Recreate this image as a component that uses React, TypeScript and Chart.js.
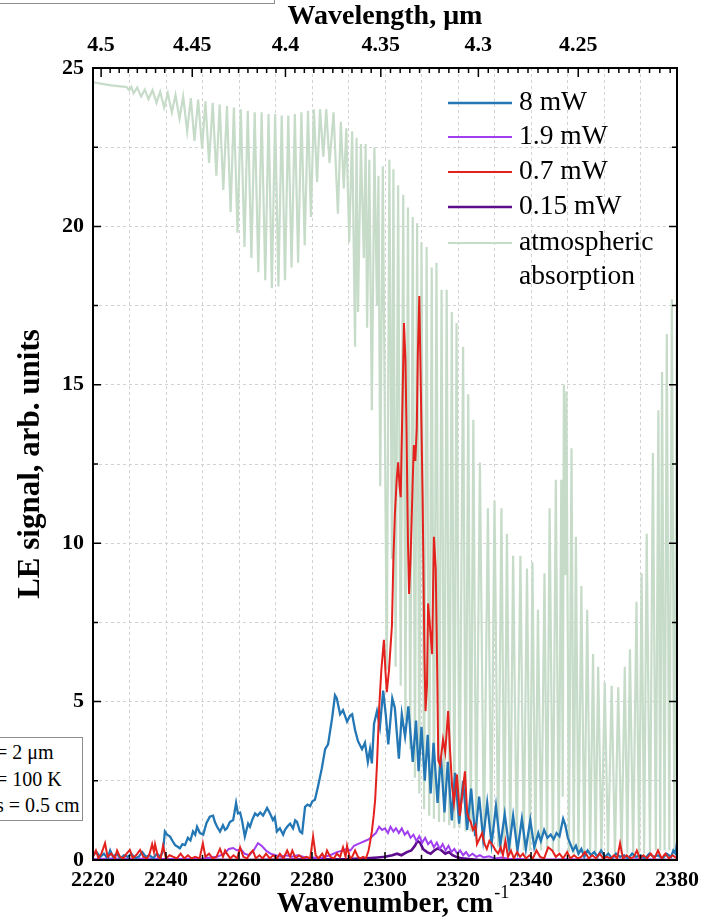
import React, { useEffect, useRef } from 'react';
import { Chart, registerables } from 'chart.js';

Chart.register(...registerables);

const FONT = '"Liberation Serif", "Times New Roman", Times, serif';

// ---- 8 mW ----
const blueWavenumber = [
  2220.0, 2221.0, 2222.0, 2223.0, 2224.0, 2224.7, 2225.5, 2226.5, 2227.5, 2228.5,
  2229.5, 2230.5, 2231.5, 2232.5, 2233.5, 2234.5, 2235.5, 2236.5, 2237.5, 2238.5,
  2239.2, 2239.7, 2240.3, 2241.1, 2241.8, 2242.5, 2243.2, 2243.8, 2244.5, 2245.2,
  2246.0, 2246.7, 2247.4, 2248.0, 2248.5, 2249.3, 2250.2, 2251.1, 2252.0, 2252.9,
  2253.4, 2254.0, 2254.8, 2255.6, 2256.2, 2256.7, 2257.5, 2258.4, 2259.2, 2259.7,
  2260.3, 2260.8, 2261.6, 2262.5, 2263.0, 2263.6, 2264.4, 2265.1, 2265.8, 2266.6,
  2267.7, 2268.5, 2269.3, 2269.8, 2270.4, 2271.2, 2272.1, 2272.6, 2273.2, 2274.0,
  2274.8, 2275.4, 2275.9, 2276.7, 2277.3, 2278.1, 2278.8, 2279.5, 2280.1, 2280.8,
  2281.6, 2282.7, 2283.6, 2284.4, 2285.5, 2286.3, 2286.8, 2287.7, 2288.5, 2289.6,
  2290.4, 2291.0, 2291.8, 2292.6, 2293.7, 2294.5, 2295.3, 2295.9, 2296.4, 2297.0,
  2297.8, 2298.6, 2299.5, 2300.2, 2300.9, 2302.0, 2302.7, 2303.8, 2304.6, 2305.5,
  2306.4, 2307.6, 2308.5, 2309.2, 2310.0, 2310.9, 2311.7, 2312.5, 2313.3, 2314.4,
  2315.3, 2316.3, 2317.2, 2318.3, 2319.2, 2320.3, 2321.4, 2322.5, 2323.6, 2324.7,
  2325.8, 2326.9, 2328.0, 2329.2, 2330.4, 2331.6, 2332.8, 2334.0, 2335.1, 2336.3,
  2337.5, 2338.6, 2339.8, 2340.9, 2342.0, 2342.7, 2343.6, 2344.5, 2345.4, 2346.2,
  2347.0, 2347.8, 2348.8, 2349.4, 2350.1, 2350.8, 2351.5, 2352.3, 2353.0, 2353.8,
  2354.6, 2355.5, 2356.4, 2357.3, 2358.2, 2359.2, 2360.2, 2361.2, 2362.2, 2363.3,
  2364.4, 2365.5, 2366.6, 2367.7, 2368.8, 2370.0, 2371.2, 2372.4, 2373.6, 2374.8,
  2376.0, 2377.2, 2378.4, 2379.0, 2379.6, 2380.0,
];
const blueSignal = [
  0.15, 0.25, 0.1, 0.2, 0.05, 0.3, 0.1, 0.2, 0.05, 0.15,
  0.1, 0.2, 0.05, 0.1, 0.25, 0.1, 0.15, 0.05, 0.2, 0.1,
  0.3, 0.9, 0.8, 0.74, 0.6, 0.47, 0.42, 0.37, 0.5, 0.47,
  0.7, 0.62, 0.9, 0.8, 1.05, 0.85, 0.8, 1.17, 1.37, 1.4,
  1.2, 1.05, 0.9, 1.1, 0.95, 1.0, 1.2, 1.26, 1.8, 1.47,
  1.5, 1.26, 0.74, 1.15, 1.05, 1.26, 1.47, 1.4, 1.5, 1.4,
  1.64, 1.47, 1.26, 1.35, 0.9, 1.0, 0.8, 0.95, 1.05, 1.15,
  1.0, 1.25, 1.2, 0.9, 0.85, 1.68, 1.75, 1.7, 1.85, 1.9,
  2.3, 2.9, 3.5, 3.65, 4.47, 5.2, 5.1, 4.6, 4.73, 4.37,
  4.55, 4.6, 4.1, 3.75, 3.5, 3.7, 3.1, 3.5, 3.05, 4.3,
  4.7, 4.2, 5.35, 4.6, 3.65, 5.1, 4.8, 3.2, 4.6, 3.9,
  4.85, 3.1, 4.4, 2.8, 4.2, 2.5, 3.95, 2.1, 3.7, 1.8,
  3.3, 1.5, 3.1, 1.25, 2.75, 1.15, 2.5, 0.95, 2.25, 0.75,
  2.0, 0.65, 1.8, 0.5, 1.7, 0.45, 1.45, 0.4, 1.4, 0.3,
  1.3, 0.35, 1.26, 0.4, 0.85, 0.6, 0.95, 0.7, 0.8, 0.65,
  0.85, 0.75, 1.3, 1.1, 0.7, 0.5, 0.3, 0.45, 0.2, 0.35,
  0.1, 0.3, 0.15, 0.25, 0.1, 0.3, 0.1, 0.2, 0.05, 0.2,
  0.1, 0.15, 0.05, 0.2, 0.1, 0.15, 0.05, 0.2, 0.1, 0.15,
  0.05, 0.2, 0.1, 0.3, 0.2, 0.55,
];

// ---- 1.9 mW ----
const purpleWavenumber = [
  2220.0, 2225.0, 2230.0, 2235.0, 2240.0, 2245.0, 2250.0, 2254.0, 2256.0, 2257.2,
  2258.4, 2259.5, 2260.5, 2261.5, 2262.8, 2264.0, 2265.2, 2266.2, 2267.4, 2268.6,
  2270.0, 2271.5, 2273.0, 2274.5, 2276.0, 2277.5, 2279.0, 2280.5, 2282.0, 2283.5,
  2285.0, 2286.8, 2288.5, 2289.5, 2290.5, 2291.5, 2292.5, 2293.5, 2294.5, 2295.5,
  2296.5, 2297.5, 2298.4, 2299.2, 2300.0, 2300.8, 2301.5, 2302.3, 2303.0, 2303.8,
  2304.6, 2305.4, 2306.2, 2307.0, 2307.8, 2308.6, 2309.4, 2310.2, 2311.0, 2311.8,
  2312.6, 2313.4, 2314.2, 2315.0, 2315.8, 2316.6, 2317.4, 2318.2, 2319.0, 2319.8,
  2320.6, 2321.4, 2322.2, 2323.0, 2324.0, 2325.0, 2326.0, 2327.0, 2328.5, 2330.0,
  2332.0, 2334.0, 2337.0, 2340.0, 2350.0, 2360.0, 2370.0, 2380.0,
];
const purpleSignal = [
  0.02, 0.05, 0.03, 0.05, 0.02, 0.04, 0.05, 0.1, 0.2, 0.35,
  0.38, 0.3, 0.34, 0.2, 0.15, 0.3, 0.53, 0.45, 0.3, 0.2,
  0.15, 0.1, 0.15, 0.1, 0.15, 0.1, 0.05, 0.08, 0.05, 0.1,
  0.15, 0.25, 0.3, 0.35, 0.3, 0.45, 0.5, 0.55, 0.6, 0.65,
  0.75, 0.85, 1.05, 0.95, 1.0, 0.85, 1.05, 0.9, 1.0, 0.85,
  1.0, 0.8, 0.9, 0.7, 0.8, 0.6, 0.75, 0.55, 0.7, 0.5,
  0.6, 0.4, 0.55, 0.35, 0.5, 0.3, 0.45, 0.25, 0.35, 0.2,
  0.3, 0.15, 0.25, 0.12, 0.2, 0.1, 0.15, 0.08, 0.12, 0.05,
  0.08, 0.03, 0.03, 0.0, 0.02, 0.0, 0.02, 0.0,
];

// ---- 0.7 mW ----
const redWavenumber = [
  2220.0, 2220.8, 2221.5, 2222.3, 2223.3, 2224.0, 2225.0, 2226.0, 2226.6, 2227.4,
  2228.3, 2229.2, 2230.1, 2230.9, 2231.8, 2232.9, 2233.8, 2234.8, 2235.5, 2236.2,
  2236.7, 2237.0, 2237.8, 2238.5, 2239.2, 2240.0, 2241.0, 2242.0, 2243.0, 2244.0,
  2245.0, 2246.0, 2247.0, 2248.0, 2249.2, 2250.1, 2250.8, 2251.8, 2252.8, 2253.8,
  2254.8, 2255.6, 2256.2, 2256.7, 2257.6, 2258.5, 2259.5, 2260.3, 2261.2, 2262.2,
  2263.0, 2263.8, 2264.6, 2265.6, 2266.5, 2267.4, 2268.4, 2269.4, 2270.4, 2271.2,
  2272.2, 2273.2, 2274.0, 2274.6, 2275.5, 2276.5, 2277.5, 2278.5, 2279.5, 2280.3,
  2281.0, 2281.8, 2282.8, 2283.5, 2284.1, 2285.0, 2286.0, 2286.8, 2287.7, 2288.5,
  2289.2, 2289.6, 2290.4, 2291.0, 2291.8, 2292.6, 2293.2, 2294.0, 2294.8, 2295.5,
  2295.9, 2296.4, 2296.9, 2297.3, 2297.8, 2298.4, 2299.0, 2299.7, 2300.1, 2300.5,
  2301.1, 2301.9, 2302.3, 2302.7, 2303.2, 2303.6, 2304.0, 2304.3, 2304.8, 2305.2,
  2305.6, 2305.9, 2306.3, 2306.6, 2307.0, 2307.6, 2307.9, 2308.3, 2308.7, 2309.0,
  2309.4, 2309.8, 2310.3, 2310.8, 2311.1, 2311.5, 2311.8, 2312.3, 2312.9, 2313.4,
  2313.9, 2314.3, 2314.6, 2315.1, 2315.9, 2316.5, 2317.3, 2317.8, 2318.4, 2318.9,
  2319.7, 2320.5, 2321.3, 2321.9, 2322.5, 2323.0, 2323.5, 2324.1, 2324.8, 2325.2,
  2326.0, 2326.6, 2327.3, 2327.9, 2328.6, 2329.6, 2330.3, 2331.0, 2331.7, 2332.3,
  2333.0, 2333.7, 2334.5, 2335.3, 2336.2, 2337.0, 2337.8, 2338.6, 2339.6, 2340.5,
  2341.5, 2342.5, 2343.6, 2344.7, 2345.8, 2346.8, 2347.8, 2348.8, 2349.9, 2350.8,
  2351.8, 2352.8, 2353.8, 2354.8, 2355.8, 2356.8, 2357.8, 2358.8, 2359.8, 2360.8,
  2361.8, 2362.8, 2363.6, 2364.4, 2365.2, 2366.2, 2367.2, 2368.2, 2369.0, 2369.8,
  2370.8, 2371.8, 2372.8, 2373.8, 2374.8, 2375.8, 2376.8, 2377.8, 2378.8, 2380.0,
];
const redSignal = [
  0.1, 0.3, 0.05, 0.2, 0.53, 0.1, 0.2, 0.05, 0.3, 0.1,
  0.05, 0.2, 0.32, 0.05, 0.15, 0.32, 0.1, 0.05, 0.2, 0.5,
  0.25, 0.5, 0.1, 0.05, 0.45, 0.05, 0.15, 0.1, 0.05, 0.2,
  0.05, 0.15, 0.05, 0.1, 0.05, 0.53, 0.1, 0.2, 0.05, 0.1,
  0.35, 0.1, 0.3, 0.2, 0.05, 0.15, 0.05, 0.4, 0.1, 0.05,
  0.2, 0.3, 0.05, 0.15, 0.05, 0.2, 0.05, 0.15, 0.05, 0.2,
  0.05, 0.3, 0.1, 0.3, 0.05, 0.15, 0.05, 0.1, 0.05, 0.74,
  0.15, 0.05, 0.2, 0.05, 0.3, 0.1, 0.05, 0.2, 0.1, 0.4,
  0.1, 0.45, 0.05, 0.1, 0.3, 0.1, 0.05, 0.1, 0.05, 0.3,
  0.55, 0.9, 1.4, 1.9, 3.0, 4.8, 6.0, 6.95, 6.0, 5.3,
  6.0, 7.4, 9.5, 10.9, 12.0, 12.55, 11.8, 11.45, 14.5, 16.95,
  15.8, 13.5, 10.0, 8.4, 9.5, 12.0, 13.1, 12.6, 13.6, 16.0,
  17.8, 15.0, 11.5, 6.5, 4.7, 5.5, 8.1, 7.4, 6.5, 10.2,
  9.2, 6.0, 3.15, 3.0, 3.8, 3.4, 4.7, 3.5, 2.3, 1.8,
  2.7, 1.4, 2.2, 2.8, 1.5, 1.3, 1.2, 0.95, 1.1, 0.5,
  0.7, 0.85, 0.5, 0.35, 0.6, 0.45, 0.3, 0.2, 0.4, 0.15,
  0.6, 0.1, 0.3, 0.05, 0.25, 0.1, 0.2, 0.05, 0.15, 0.05,
  0.3, 0.1, 0.05, 0.4, 0.3, 0.1, 0.2, 0.05, 0.25, 0.05,
  0.15, 0.05, 0.1, 0.25, 0.05, 0.15, 0.05, 0.2, 0.05, 0.1,
  0.05, 0.15, 0.05, 0.53, 0.05, 0.15, 0.05, 0.1, 0.3, 0.05,
  0.15, 0.05, 0.2, 0.05, 0.3, 0.05, 0.2, 0.05, 0.15, 0.05,
];

// ---- 0.15 mW ----
const darkWavenumber = [
  2220.0, 2240.0, 2260.0, 2280.0, 2290.0, 2295.0, 2298.0, 2300.0, 2302.0, 2303.3,
  2304.5, 2306.0, 2307.2, 2308.2, 2308.9, 2309.6, 2310.4, 2311.5, 2312.5, 2313.5,
  2314.5, 2315.5, 2316.5, 2317.5, 2318.5, 2319.5, 2321.0, 2323.0, 2326.0, 2340.0,
  2360.0, 2380.0,
];
const darkSignal = [
  0.0, 0.02, 0.0, 0.02, 0.03, 0.05, 0.08, 0.1, 0.15, 0.2,
  0.15, 0.25, 0.3, 0.45, 0.6, 0.55, 0.35, 0.25, 0.2, 0.3,
  0.37, 0.3, 0.2, 0.25, 0.15, 0.1, 0.05, 0.03, 0.0, 0.0,
  0.0, 0.0,
];

// ---- atmospheric absorption ----
const atmWavenumber = [
  2220.0, 2222.5, 2225.0, 2227.5, 2229.2, 2229.9, 2230.5, 2231.1, 2232.1, 2233.2,
  2234.2, 2235.2, 2236.3, 2237.4, 2238.4, 2239.5, 2240.5, 2241.6, 2242.6, 2243.7,
  2244.7, 2245.8, 2246.8, 2247.8, 2248.8, 2249.9, 2250.8, 2251.8, 2252.8, 2253.8,
  2254.7, 2255.7, 2256.7, 2257.7, 2258.6, 2259.6, 2260.5, 2261.5, 2262.4, 2263.4,
  2264.3, 2265.3, 2266.2, 2267.2, 2268.1, 2269.0, 2269.9, 2270.8, 2271.7, 2272.6,
  2273.5, 2274.4, 2275.3, 2276.2, 2277.1, 2278.0, 2278.9, 2279.7, 2280.5, 2281.4,
  2282.2, 2283.1, 2283.9, 2284.8, 2285.9, 2287.1, 2287.9, 2288.7, 2289.4, 2290.2,
  2291.0, 2291.8, 2292.2, 2292.6, 2293.4, 2294.2, 2294.7, 2295.1, 2295.7, 2296.4,
  2297.1, 2297.8, 2298.2, 2298.7, 2299.4, 2300.5, 2301.2, 2301.9, 2302.3, 2302.9,
  2303.6, 2304.3, 2305.0, 2305.6, 2306.3, 2306.9, 2307.6, 2308.2, 2308.8, 2309.4,
  2310.0, 2310.7, 2311.4, 2312.1, 2312.8, 2313.4, 2314.1, 2314.8, 2315.5, 2316.2,
  2316.9, 2317.6, 2318.3, 2319.0, 2319.6, 2320.4, 2321.4, 2322.1, 2322.8, 2323.5,
  2324.2, 2325.0, 2326.0, 2327.1, 2328.2, 2329.1, 2330.0, 2331.0, 2331.9, 2332.7,
  2333.4, 2334.3, 2335.1, 2336.1, 2337.1, 2338.0, 2338.9, 2339.7, 2340.4, 2341.2,
  2341.9, 2342.8, 2343.7, 2344.4, 2345.1, 2346.0, 2346.8, 2347.6, 2348.3, 2348.7,
  2349.0, 2349.4, 2349.7, 2350.4, 2351.1, 2351.7, 2352.3, 2353.0, 2353.8, 2354.6,
  2355.4, 2356.2, 2357.0, 2357.7, 2358.4, 2359.3, 2360.2, 2361.1, 2362.1, 2363.0,
  2363.9, 2364.8, 2365.7, 2366.4, 2367.1, 2368.0, 2368.9, 2369.6, 2370.3, 2371.0,
  2371.7, 2372.6, 2373.4, 2374.2, 2374.9, 2375.4, 2375.9, 2376.6, 2377.2, 2377.9,
  2378.6, 2379.3, 2380.0,
];
const atmSignal = [
  24.55, 24.5, 24.45, 24.42, 24.4, 24.3, 24.4, 24.2, 24.38, 24.1,
  24.32, 24.02, 24.3, 23.9, 24.25, 23.75, 24.2, 23.6, 24.15, 23.4,
  24.1, 23.0, 24.05, 22.7, 24.0, 22.45, 23.95, 22.0, 23.9, 21.6,
  23.85, 21.15, 23.8, 20.45, 23.75, 19.8, 23.7, 19.35, 23.65, 19.0,
  23.6, 18.55, 23.6, 18.3, 23.55, 18.05, 23.55, 18.1, 23.5, 18.3,
  23.5, 18.7, 23.55, 18.85, 23.6, 19.4, 23.65, 20.3, 23.7, 21.4,
  23.7, 22.2, 23.7, 22.0, 23.6, 20.4, 23.3, 21.2, 23.1, 19.5,
  23.0, 16.2, 22.8, 17.3, 22.6, 19.0, 22.6, 16.8, 22.1, 14.2,
  22.5, 17.5, 21.6, 11.8, 21.9, 6.0, 22.1, 9.5, 21.8, 6.1,
  21.3, 5.5, 21.0, 4.4, 20.6, 3.5, 20.3, 2.6, 20.1, 2.1,
  19.5, 1.6, 19.35, 1.4, 18.7, 1.3, 18.85, 1.2, 18.0, 1.2,
  18.0, 1.1, 17.3, 1.0, 16.95, 1.0, 16.2, 0.9, 14.7, 0.9,
  13.9, 0.6, 12.55, 0.5, 11.1, 0.5, 11.35, 0.4, 11.1, 0.4,
  10.3, 0.35, 9.6, 0.3, 9.6, 0.3, 9.2, 0.3, 9.4, 0.3,
  7.9, 0.3, 9.05, 0.25, 11.1, 0.25, 12.0, 0.25, 12.0, 2.0,
  15.0, 9.0, 14.8, 0.25, 13.0, 0.2, 10.2, 0.2, 8.65, 0.2,
  7.9, 0.2, 6.5, 0.2, 6.1, 0.2, 5.6, 0.2, 5.5, 0.2,
  5.45, 0.2, 6.1, 0.2, 6.65, 0.2, 8.15, 0.2, 9.05, 0.2,
  10.3, 0.2, 12.85, 0.3, 14.2, 0.3, 15.4, 0.3, 16.6, 0.3,
  17.7, 0.3, 18.8,
];

// ---- legend / axes text ----
const seriesLabels = ['8 mW', '1.9 mW', '0.7 mW', '0.15 mW', 'atmospheric absorption'];
const legendLines = [['8 mW'], ['1.9 mW'], ['0.7 mW'], ['0.15 mW'], ['atmospheric', 'absorption']];
const seriesColors = ['#2377b4', '#a13ff0', '#e3221d', '#5d0c8c', '#c6dcc9'];
const seriesWidths = [2.3, 2, 2, 2.6, 2.2];
const seriesOrder = [2, 3, 1, 4, 10];

const topWavelengthTicks = [4.5, 4.45, 4.4, 4.35, 4.3, 4.25];
const topTickLabels = ['4.5', '4.45', '4.4', '4.35', '4.3', '4.25'];
const topMinorStep = 0.005;

const xMin = 2220;
const xMax = 2380;
const yMin = 0;
const yMax = 25;

const insetLines = ['= 2 \u03bcm', '= 100 K', 's = 0.5 cm'];

function zip(xs: number[], ys: number[]) {
  const n = Math.min(xs.length, ys.length);
  const out: { x: number; y: number }[] = [];
  for (let i = 0; i < n; i++) out.push({ x: xs[i], y: ys[i] });
  return out;
}

export default function App() {
  const ref = useRef<HTMLCanvasElement>(null);

  useEffect(() => {
    const canvas = ref.current;
    if (!canvas) return;

    const seriesData = [
      zip(blueWavenumber, blueSignal),
      zip(purpleWavenumber, purpleSignal),
      zip(redWavenumber, redSignal),
      zip(darkWavenumber, darkSignal),
      zip(atmWavenumber, atmSignal),
    ];

    const framePlugin = {
      id: 'frameTicks',
      afterDatasetsDraw(chart: any) {
        const { ctx, chartArea } = chart;
        const { left, right, top, bottom } = chartArea;
        const xs = chart.scales.x;
        const ys = chart.scales.y;
        ctx.save();
        ctx.strokeStyle = '#000';
        ctx.lineWidth = 1.5;
        ctx.beginPath();
        xs.ticks.forEach((t: any) => {
          const px = xs.getPixelForValue(t.value);
          const len = t.value % 20 === 0 ? 8 : 5;
          ctx.moveTo(px, bottom);
          ctx.lineTo(px, bottom - len);
        });
        ys.ticks.forEach((t: any) => {
          const py = ys.getPixelForValue(t.value);
          const len = t.value % 5 === 0 ? 8 : 5;
          ctx.moveTo(left, py);
          ctx.lineTo(left + len, py);
          ctx.moveTo(right, py);
          ctx.lineTo(right - len, py);
        });
        for (let k = 0; k < 200; k++) {
          const lam = topWavelengthTicks[0] - k * topMinorStep;
          const nu = 1e4 / lam;
          if (nu > xMax + 1e-6) break;
          if (nu < xMin) continue;
          const px = xs.getPixelForValue(nu);
          const isMajor = k % 10 === 0;
          const len = isMajor ? 9 : 5;
          ctx.moveTo(px, top);
          ctx.lineTo(px, top + len);
        }
        ctx.stroke();
        ctx.lineWidth = 2;
        ctx.strokeRect(left, top, right - left, bottom - top);
        ctx.restore();
      },
      afterDraw(chart: any) {
        const { ctx } = chart;
        const xs = chart.scales.x;
        ctx.save();
        ctx.font = `bold 29px ${FONT}`;
        const w = ctx.measureText('Wavenumber, cm').width;
        const cx = (xs.left + xs.right) / 2;
        ctx.font = `18px ${FONT}`;
        ctx.fillStyle = '#000';
        ctx.textAlign = 'left';
        ctx.textBaseline = 'middle';
        ctx.fillText('-1', cx + w / 2 + 1, 893);

        const rowY = [103, 137, 172, 207, 243];
        chart.data.datasets.forEach((ds: any, i: number) => {
          const y = rowY[i];
          ctx.strokeStyle = ds.borderColor;
          ctx.lineWidth = ds.borderWidth;
          ctx.beginPath();
          ctx.moveTo(448, y);
          ctx.lineTo(512, y);
          ctx.stroke();
          ctx.fillStyle = '#000';
          ctx.font = `27.5px ${FONT}`;
          ctx.textBaseline = 'middle';
          legendLines[i].forEach((line, j) => {
            ctx.fillText(line, 519, y + j * 34);
          });
        });
        ctx.restore();
      },
    };

    const tickFont = { family: FONT, size: 22, weight: 'bold' as const };

    const chart = new Chart(canvas, {
      type: 'line',
      data: {
        datasets: seriesData.map((d, i) => ({
          label: seriesLabels[i],
          data: d,
          borderColor: seriesColors[i],
          backgroundColor: seriesColors[i],
          borderWidth: seriesWidths[i],
          pointRadius: 0,
          pointHoverRadius: 0,
          tension: 0,
          fill: false,
          order: seriesOrder[i],
        })),
      },
      options: {
        animation: false,
        responsive: false,
        devicePixelRatio: 1,
        events: [],
        layout: { padding: { left: 0, right: 32, top: 0, bottom: 0 } },
        plugins: {
          legend: { display: false },
          tooltip: { enabled: false },
        },
        scales: {
          x: {
            type: 'linear',
            position: 'bottom',
            min: xMin,
            max: xMax,
            afterFit: (s: any) => {
              s.height = 62;
            },
            ticks: {
              stepSize: 10,
              autoSkip: false,
              maxRotation: 0,
              padding: 7,
              color: '#000',
              font: tickFont,
              callback: (v: any) => (Number(v) % 20 === 0 ? String(v) : ''),
            },
            grid: { color: '#d2d2d2', lineWidth: 1, drawTicks: false },
            border: { display: false, dash: [3, 3] },
            title: {
              display: true,
              text: 'Wavenumber, cm',
              color: '#000',
              font: { family: FONT, size: 29, weight: 'bold' },
              padding: { top: 0, bottom: 0 },
            },
          },
          x2: {
            type: 'linear',
            position: 'top',
            min: xMin,
            max: xMax,
            afterFit: (s: any) => {
              s.height = 68;
            },
            afterBuildTicks: (s: any) => {
              s.ticks = topWavelengthTicks.map((l) => ({ value: 1e4 / l }));
            },
            ticks: {
              autoSkip: false,
              maxRotation: 0,
              padding: 9,
              color: '#000',
              font: tickFont,
              callback: (_v: any, i: number) => topTickLabels[i],
            },
            grid: { display: false, drawTicks: false },
            border: { display: false },
            title: {
              display: true,
              text: 'Wavelength, \u03bcm',
              color: '#000',
              font: { family: FONT, size: 28, weight: 'bold' },
              padding: { top: 0, bottom: 0 },
            },
          },
          y: {
            type: 'linear',
            position: 'left',
            min: yMin,
            max: yMax,
            afterFit: (s: any) => {
              s.width = 93;
            },
            ticks: {
              stepSize: 2.5,
              autoSkip: false,
              padding: 9,
              color: '#000',
              font: tickFont,
              callback: (v: any) => (Number(v) % 5 === 0 ? String(v) : ''),
            },
            grid: { color: '#d2d2d2', lineWidth: 1, drawTicks: false },
            border: { display: false, dash: [3, 3] },
            title: {
              display: true,
              text: 'LE signal, arb. units',
              color: '#000',
              font: { family: FONT, size: 31, weight: 'bold' },
              padding: { top: 12, bottom: 0 },
            },
          },
        },
      },
      plugins: [framePlugin],
    } as any);

    return () => {
      chart.destroy();
    };
  }, []);

  return (
    <div
      style={{
        position: 'fixed',
        left: 0,
        top: 0,
        width: 709,
        height: 922,
        overflow: 'hidden',
        background: '#fff',
      }}
    >
      <canvas ref={ref} width={709} height={922} style={{ position: 'absolute', left: 0, top: 0, width: 709, height: 922 }} />
      <div
        style={{
          position: 'absolute',
          left: -10,
          top: -20,
          width: 285,
          height: 24,
          boxSizing: 'border-box',
          border: '1.5px solid #8c8c8c',
          background: '#fff',
        }}
      />
      <div
        style={{
          position: 'absolute',
          left: -10,
          top: 737,
          width: 93,
          height: 84,
          boxSizing: 'border-box',
          border: '1.5px solid #8c8c8c',
          background: '#fff',
        }}
      />
      {insetLines.map((t, i) => (
        <div
          key={i}
          style={{
            position: 'absolute',
            left: -4,
            top: 739 + i * 26.5,
            fontFamily: FONT,
            fontSize: 20,
            lineHeight: '26px',
            color: '#000',
            whiteSpace: 'nowrap',
          }}
        >
          {t}
        </div>
      ))}
    </div>
  );
}
